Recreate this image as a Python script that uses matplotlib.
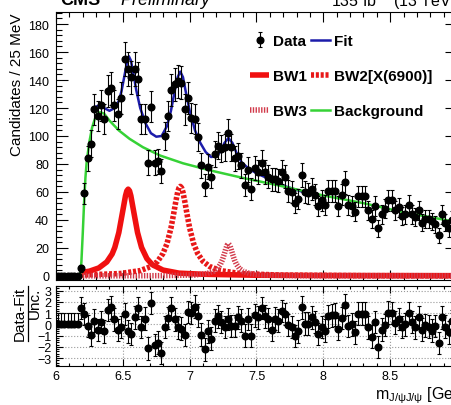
import numpy as np
import matplotlib
matplotlib.use('Agg')
import matplotlib.pyplot as plt
from matplotlib.ticker import MultipleLocator, FormatStrFormatter
from matplotlib.lines import Line2D

plt.rcParams['font.family'] = ['Liberation Sans', 'DejaVu Sans']
plt.rcParams['mathtext.fontset'] = 'custom'
plt.rcParams['mathtext.rm'] = 'Liberation Sans'
plt.rcParams['mathtext.it'] = 'Liberation Sans:italic'
plt.rcParams['mathtext.bf'] = 'Liberation Sans:bold'

# ------------------------------------------------------------------
#  data (25 MeV bins, 6.0 - 9.0 GeV)
# ------------------------------------------------------------------
bin_centers = np.linspace(6.0125, 8.9875, 120)

counts = [0, 0, 0, 0, 0, 0, 0, 5.5, 59, 84,
          94.5, 119, 114, 122, 112, 132, 134, 122, 116, 127,
          155, 148, 142, 148, 141, 112, 112, 81, 121, 81,
          82, 75, 100, 114, 133, 137, 139, 138, 119, 127,
          113, 112, 99, 79, 65, 78, 71, 87, 93, 91,
          92, 102, 92, 84, 86, 79, 65, 76, 62, 77,
          74, 81, 74, 71, 69, 69, 68, 74, 71, 61,
          60, 52, 55, 72, 60, 59, 62, 58, 50, 54,
          51, 61, 61, 61, 50, 58, 67, 51, 50, 46,
          57, 57, 57, 47, 41, 50, 34, 44, 48, 54,
          54, 47, 49, 43, 44, 51, 44, 42, 47, 38,
          41, 41, 39, 37, 29, 44, 38, 34, 40, 38]

pulls = [0, 0, 0, 0, 0, 0, 0, 1.43, 0.91, -0.14,
         -0.94, 0.34, -0.51, 0.2, -0.63, 1.28, 1.51, 0.43, -0.51, -0.23,
         0.91, -0.63, -0.85, 0.63, 1.43, -0.23, 0.51, -2.14, 1.9, -1.85,
         -1.62, -2.56, -0.23, 0.57, 1.43, 0.43, -0.28, -0.37, -0.94, 1.09,
         1.0, 1.56, 0.77, -0.91, -2.22, -0.63, -1.28, 0.34, 0.71, 0.2,
         -0.23, 0.49, -0.14, -0.14, 0.63, 0.34, -1.0, 0.49, -1.0, 0.8,
         0.63, 1.43, 0.71, 0.43, -0.51, 0.51, 0.34, 1.2, 0.91, -0.06,
         -0.23, -1.05, -0.63, 1.51, 0.06, 0.06, 0.63, 0.2, -0.85, -0.23,
         -0.57, 0.71, 0.8, 0.86, -0.43, 0.57, 1.71, -0.14, 0.0, -0.71,
         0.94, 0.94, 0.94, -0.28, -1.08, 0.2, -2.0, -0.48, -0.06, 1.05,
         1.0, 0.14, 0.49, -0.23, 0.0, 1.0, 0.2, -0.28, 0.63, -0.48,
         -0.09, -0.2, -0.57, -0.14, -1.65, 0.63, -0.2, -0.71, 0.3, 0.0]

# curves (mass, value)
bkg_m = [6.18, 6.19, 6.20, 6.21, 6.22, 6.23, 6.25, 6.27, 6.29, 6.31, 6.33, 6.36,
         6.40, 6.47, 6.55, 6.65, 6.78, 6.95, 7.15, 7.40, 7.65, 8.0, 8.3, 8.6, 9.0]
bkg_y = [0, 10, 30, 52, 70, 82, 96, 106, 112, 116, 117, 116,
         111, 104, 98, 92, 86, 80.5, 75.5, 70, 65, 57.5, 52, 45.5, 38.5]

fit_m = [6.30, 6.33, 6.36, 6.40, 6.44, 6.47, 6.49, 6.51, 6.53, 6.545, 6.56, 6.58,
         6.60, 6.63, 6.67, 6.71, 6.75, 6.79, 6.83, 6.86, 6.89, 6.91, 6.93, 6.95,
         6.97, 7.00, 7.04, 7.08, 7.12, 7.16, 7.20, 7.23, 7.26, 7.29, 7.32, 7.35,
         7.39, 7.45, 7.52, 7.60, 7.70, 7.80, 7.88]
fit_y = [121, 122, 120, 118, 120, 125, 132, 142, 152, 157, 154, 144,
         133, 120, 109, 102, 99.5, 100, 107, 118, 133, 142, 146, 142,
         132, 118, 104, 95, 88.5, 85, 85.5, 89, 95, 98.5, 95, 88,
         81, 76, 72.5, 69, 64.5, 61.5, 59]

bw1_m = [6.18, 6.25, 6.32, 6.38, 6.42, 6.44, 6.47, 6.50, 6.52, 6.53, 6.54, 6.55,
         6.56, 6.58, 6.61, 6.64, 6.68, 6.72, 6.80, 6.92, 7.10, 7.50, 8.00, 9.00]
bw1_y = [2.3, 3.4, 5.7, 10, 15.7, 20.4, 31, 46.7, 57.3, 60.8, 62, 60.8,
         57.3, 46.7, 31, 20.4, 12.4, 8.1, 4.2, 2.0, 1.2, 0.5, 0.3, 0.2]

bw2_m = [6.18, 6.48, 6.63, 6.71, 6.76, 6.80, 6.83, 6.86, 6.88, 6.895, 6.91, 6.92,
         6.93, 6.94, 6.95, 6.965, 6.98, 7.00, 7.03, 7.06, 7.10, 7.15, 7.23, 7.38,
         7.68, 8.30, 9.00]
bw2_y = [0.6, 1.7, 3.8, 6.7, 10.4, 16, 23, 34.2, 44.3, 52.5, 59.8, 62.9,
         64, 62.9, 59.8, 52.5, 44.3, 34.2, 23, 16, 10.4, 6.7, 3.8, 1.7,
         0.6, 0.2, 0.1]

bw3_m = [6.18, 6.79, 7.04, 7.13, 7.18, 7.21, 7.23, 7.245, 7.26, 7.27, 7.28, 7.29,
         7.30, 7.31, 7.32, 7.335, 7.35, 7.37, 7.40, 7.45, 7.54, 7.79, 9.00]
bw3_y = [0.05, 0.18, 0.7, 1.7, 3.3, 5.5, 8.3, 11.5, 15.9, 19.2, 21.9, 23,
         21.9, 19.2, 15.9, 11.5, 8.3, 5.5, 3.3, 1.7, 0.7, 0.18, 0.03]

# ------------------------------------------------------------------
#  figure
# ------------------------------------------------------------------
W, H = 452, 406
fig = plt.figure(figsize=(W / 100, H / 100), dpi=100)

def px_axes(l, t, r, b):
    return fig.add_axes([l / W, 1 - b / H, (r - l) / W, (b - t) / H])

ax = px_axes(56, 13, 457, 281)
axr = px_axes(56, 287, 457, 366.5)

counts = np.array(counts, dtype=float)
pulls = np.array(pulls, dtype=float)
nz = counts > 0

red = '#f01010'
ax.plot(bw1_m, bw1_y, color=red, lw=4.0, solid_capstyle='butt', zorder=2)
ax.plot(bw2_m, bw2_y, color='#e81818', lw=4.0, ls=(0, (0.55, 0.32)), zorder=2)
ax.plot(bw3_m, bw3_y, color='#d23a4a', lw=4.0, ls=(0, (0.25, 0.25)), zorder=2)
ax.plot(fit_m, fit_y, color='#1c1caa', lw=1.8, zorder=3)
ax.plot(bkg_m, bkg_y, color='#36d236', lw=1.8, zorder=3)

ax.plot(bin_centers[~nz], counts[~nz], 'o', color='k', ms=4.8, zorder=5)
data_h = ax.errorbar(bin_centers[nz], counts[nz], yerr=np.sqrt(counts[nz]),
                     fmt='o', color='k', ms=4.8, elinewidth=0.8, capsize=1.2,
                     capthick=0.8, zorder=5)

ax.set_xlim(6, 9)
ax.set_ylim(-2.9, 188.6)
ax.xaxis.set_major_locator(MultipleLocator(0.5))
ax.xaxis.set_minor_locator(MultipleLocator(0.1))
ax.yaxis.set_major_locator(MultipleLocator(20))
ax.yaxis.set_minor_locator(MultipleLocator(4))
ax.tick_params(which='both', direction='in', top=True, right=True,
               labelbottom=False, labelsize=9, pad=5)
ax.tick_params(axis='y', which='major', length=8.6, width=0.8)
ax.tick_params(axis='y', which='minor', length=4.3, width=0.8)
ax.tick_params(axis='x', which='major', length=7, width=0.8)
ax.tick_params(axis='x', which='minor', length=3.6, width=0.8)

# legend
h_fit = Line2D([], [], color='#1c1caa', lw=1.8)
h_bkg = Line2D([], [], color='#36d236', lw=1.8)
h_bw1 = Line2D([], [], color=red, lw=4.0, solid_capstyle='butt')
h_bw2 = Line2D([], [], color='#e81818', lw=4.0, ls=(0, (0.55, 0.32)))
h_bw3 = Line2D([], [], color='#d23a4a', lw=4.0, ls=(0, (0.25, 0.25)))
ax.legend([data_h, h_bw1, h_bw3, h_fit, h_bw2, h_bkg],
          ['Data', 'BW1', 'BW3', 'Fit', 'BW2[X(6900)]', 'Background'],
          ncol=2, loc='upper left', bbox_to_anchor=((250 - 56) / 401, 1 - (35 - 13) / 268),
          frameon=False, borderpad=0, borderaxespad=0, handlelength=1.25,
          handletextpad=0.25, columnspacing=0.3, labelspacing=1.38,
          prop={'family': 'Liberation Sans', 'weight': 'bold', 'size': 11})

# ratio panel
axr.errorbar(bin_centers[~nz], pulls[~nz],
             yerr=[np.zeros((~nz).sum()), np.ones((~nz).sum())],
             fmt='o', color='k', ms=4.8, elinewidth=0.8, capsize=1.2,
             capthick=0.8, zorder=5)
axr.errorbar(bin_centers[nz], pulls[nz], yerr=np.ones(nz.sum()),
             fmt='o', color='k', ms=4.8, elinewidth=0.8, capsize=1.2,
             capthick=0.8, zorder=5)
axr.set_xlim(6, 9)
axr.set_ylim(-3.65, 3.4)
axr.xaxis.set_major_locator(MultipleLocator(0.5))
axr.xaxis.set_minor_locator(MultipleLocator(0.1))
axr.xaxis.set_major_formatter(FormatStrFormatter('%g'))
axr.yaxis.set_major_locator(MultipleLocator(1))
axr.yaxis.set_minor_locator(MultipleLocator(0.2))
axr.grid(True, which='major', ls=':', color='#999999', lw=0.8)
axr.tick_params(which='both', direction='in', top=True, right=True,
                labelsize=9, pad=3.5)
axr.tick_params(which='major', length=5, width=0.8)
axr.tick_params(which='minor', length=2.5, width=0.8)

# texts
def ftext(x, y, s, **kw):
    return fig.text(x / W, 1 - y / H, s, **kw)

ftext(17, 13, 'Candidates / 25 MeV', rotation=90, ha='center', va='top', fontsize=11)
ftext(20, 287, 'Data-Fit', rotation=90, ha='center', va='top', fontsize=11)
ftext(34.5, 288, 'Unc.', rotation=90, ha='center', va='top', fontsize=11)
fig.add_artist(Line2D([28.5 / W, 28.5 / W], [1 - 287 / H, 1 - 342 / H], color='k', lw=0.9))
ftext(375, 399, r'm$_{\mathrm{J/\psi J/\psi}}$ [GeV]', ha='left', va='baseline', fontsize=11.5)

ftext(60, 5, 'CMS', ha='left', va='baseline', fontsize=13, weight='bold')
ftext(120, 5, 'Preliminary', ha='left', va='baseline', fontsize=13, style='italic')
ftext(457, 7, r'135 fb$^{-1}$ (13 TeV)', ha='right', va='baseline', fontsize=11.5)

fig.savefig('out.png', dpi=100)
